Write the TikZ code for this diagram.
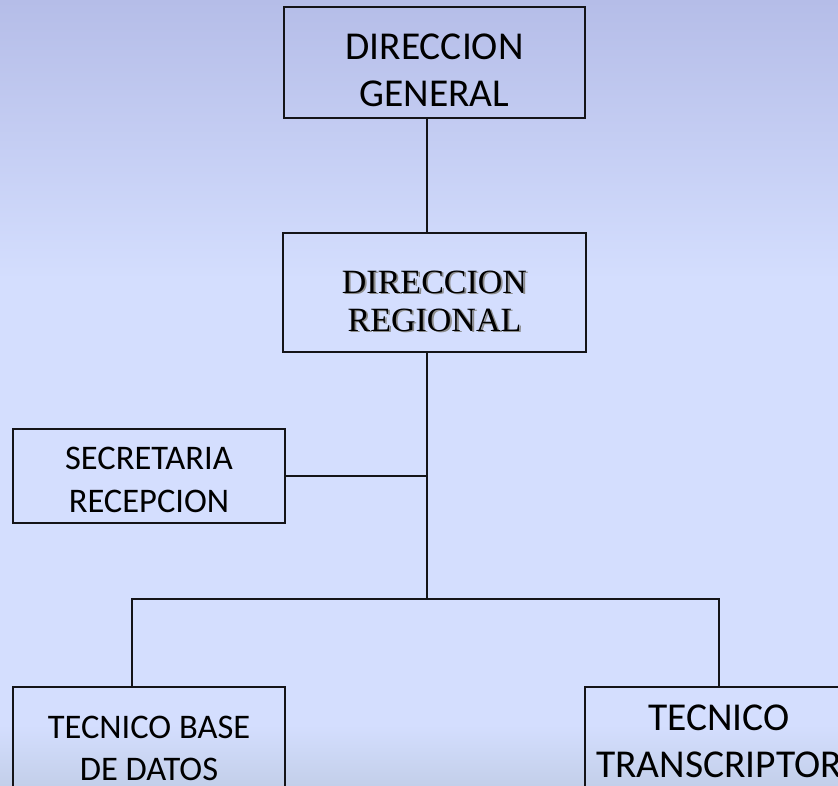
\documentclass[tikz,border=0pt]{standalone}
\usepackage{fontspec}
\setmainfont{Carlito}
\newfontfamily\regfont{Liberation Serif}

\definecolor{bgtop}{RGB}{181,189,232}
\definecolor{bgmid}{RGB}{212,222,254}
\definecolor{bgbot}{RGB}{195,207,234}
\definecolor{boxline}{RGB}{20,20,24}

\newcommand{\shadowcaps}[1]{\makebox[0pt][l]{\hspace{1.8pt}\raisebox{-1.8pt}{\color{black!45}#1}}#1}

\begin{document}
\begin{tikzpicture}[x=1pt,y=-1pt,
    caja/.style={draw=boxline,line width=2.6pt,align=center,inner sep=0pt},
    linea/.style={draw=boxline,line width=1.3pt}]

    \shade[top color=bgtop,bottom color=bgmid] (0,0) rectangle (838,280);
    \fill[bgmid] (0,280) rectangle (838,725);
    \shade[top color=bgmid,bottom color=bgbot] (0,725) rectangle (838,785);
    \clip (0,0) rectangle (838,785);

    \coordinate (spine) at (427,0);
    \coordinate (busL) at (132,599);
    \coordinate (busR) at (719,599);

    \node[caja,minimum width=301pt,minimum height=111pt,font=\fontsize{39.5}{47}\selectfont] (general) at (434.5,62.5) {\rule{0pt}{41pt}DIRECCION\\GENERAL};
    \node[caja,minimum width=303pt,minimum height=119pt,font=\fontsize{34}{38}\regfont] (regional) at (434.5,292.5) {\rule{0pt}{41.5pt}\shadowcaps{DIRECCION}\\\shadowcaps{REGIONAL}};
    \node[caja,minimum width=272pt,minimum height=94pt,font=\fontsize{34.5}{43}\selectfont] (secretaria) at (149,476) {\rule{0pt}{31pt}SECRETARIA\\RECEPCION};
    \node[caja,minimum width=272pt,minimum height=123pt,font=\fontsize{34.5}{42}\selectfont] (basedatos) at (149,748.5) {TECNICO BASE\\DE DATOS};
    \node[caja,minimum width=268pt,minimum height=108pt,font=\fontsize{39.5}{47}\selectfont] (transcriptor) at (719,741) {TECNICO\\TRANSCRIPTOR};

    \draw[linea] (general.south -| spine) -- (regional.north -| spine);
    \draw[linea] (regional.south -| spine) -- (busL -| spine);
    \draw[linea] (secretaria.east) -- (secretaria.east -| spine);
    \draw[linea] (basedatos.north -| busL) -- (busL) -- (busR) -- (transcriptor.north -| busR);
\end{tikzpicture}
\end{document}
